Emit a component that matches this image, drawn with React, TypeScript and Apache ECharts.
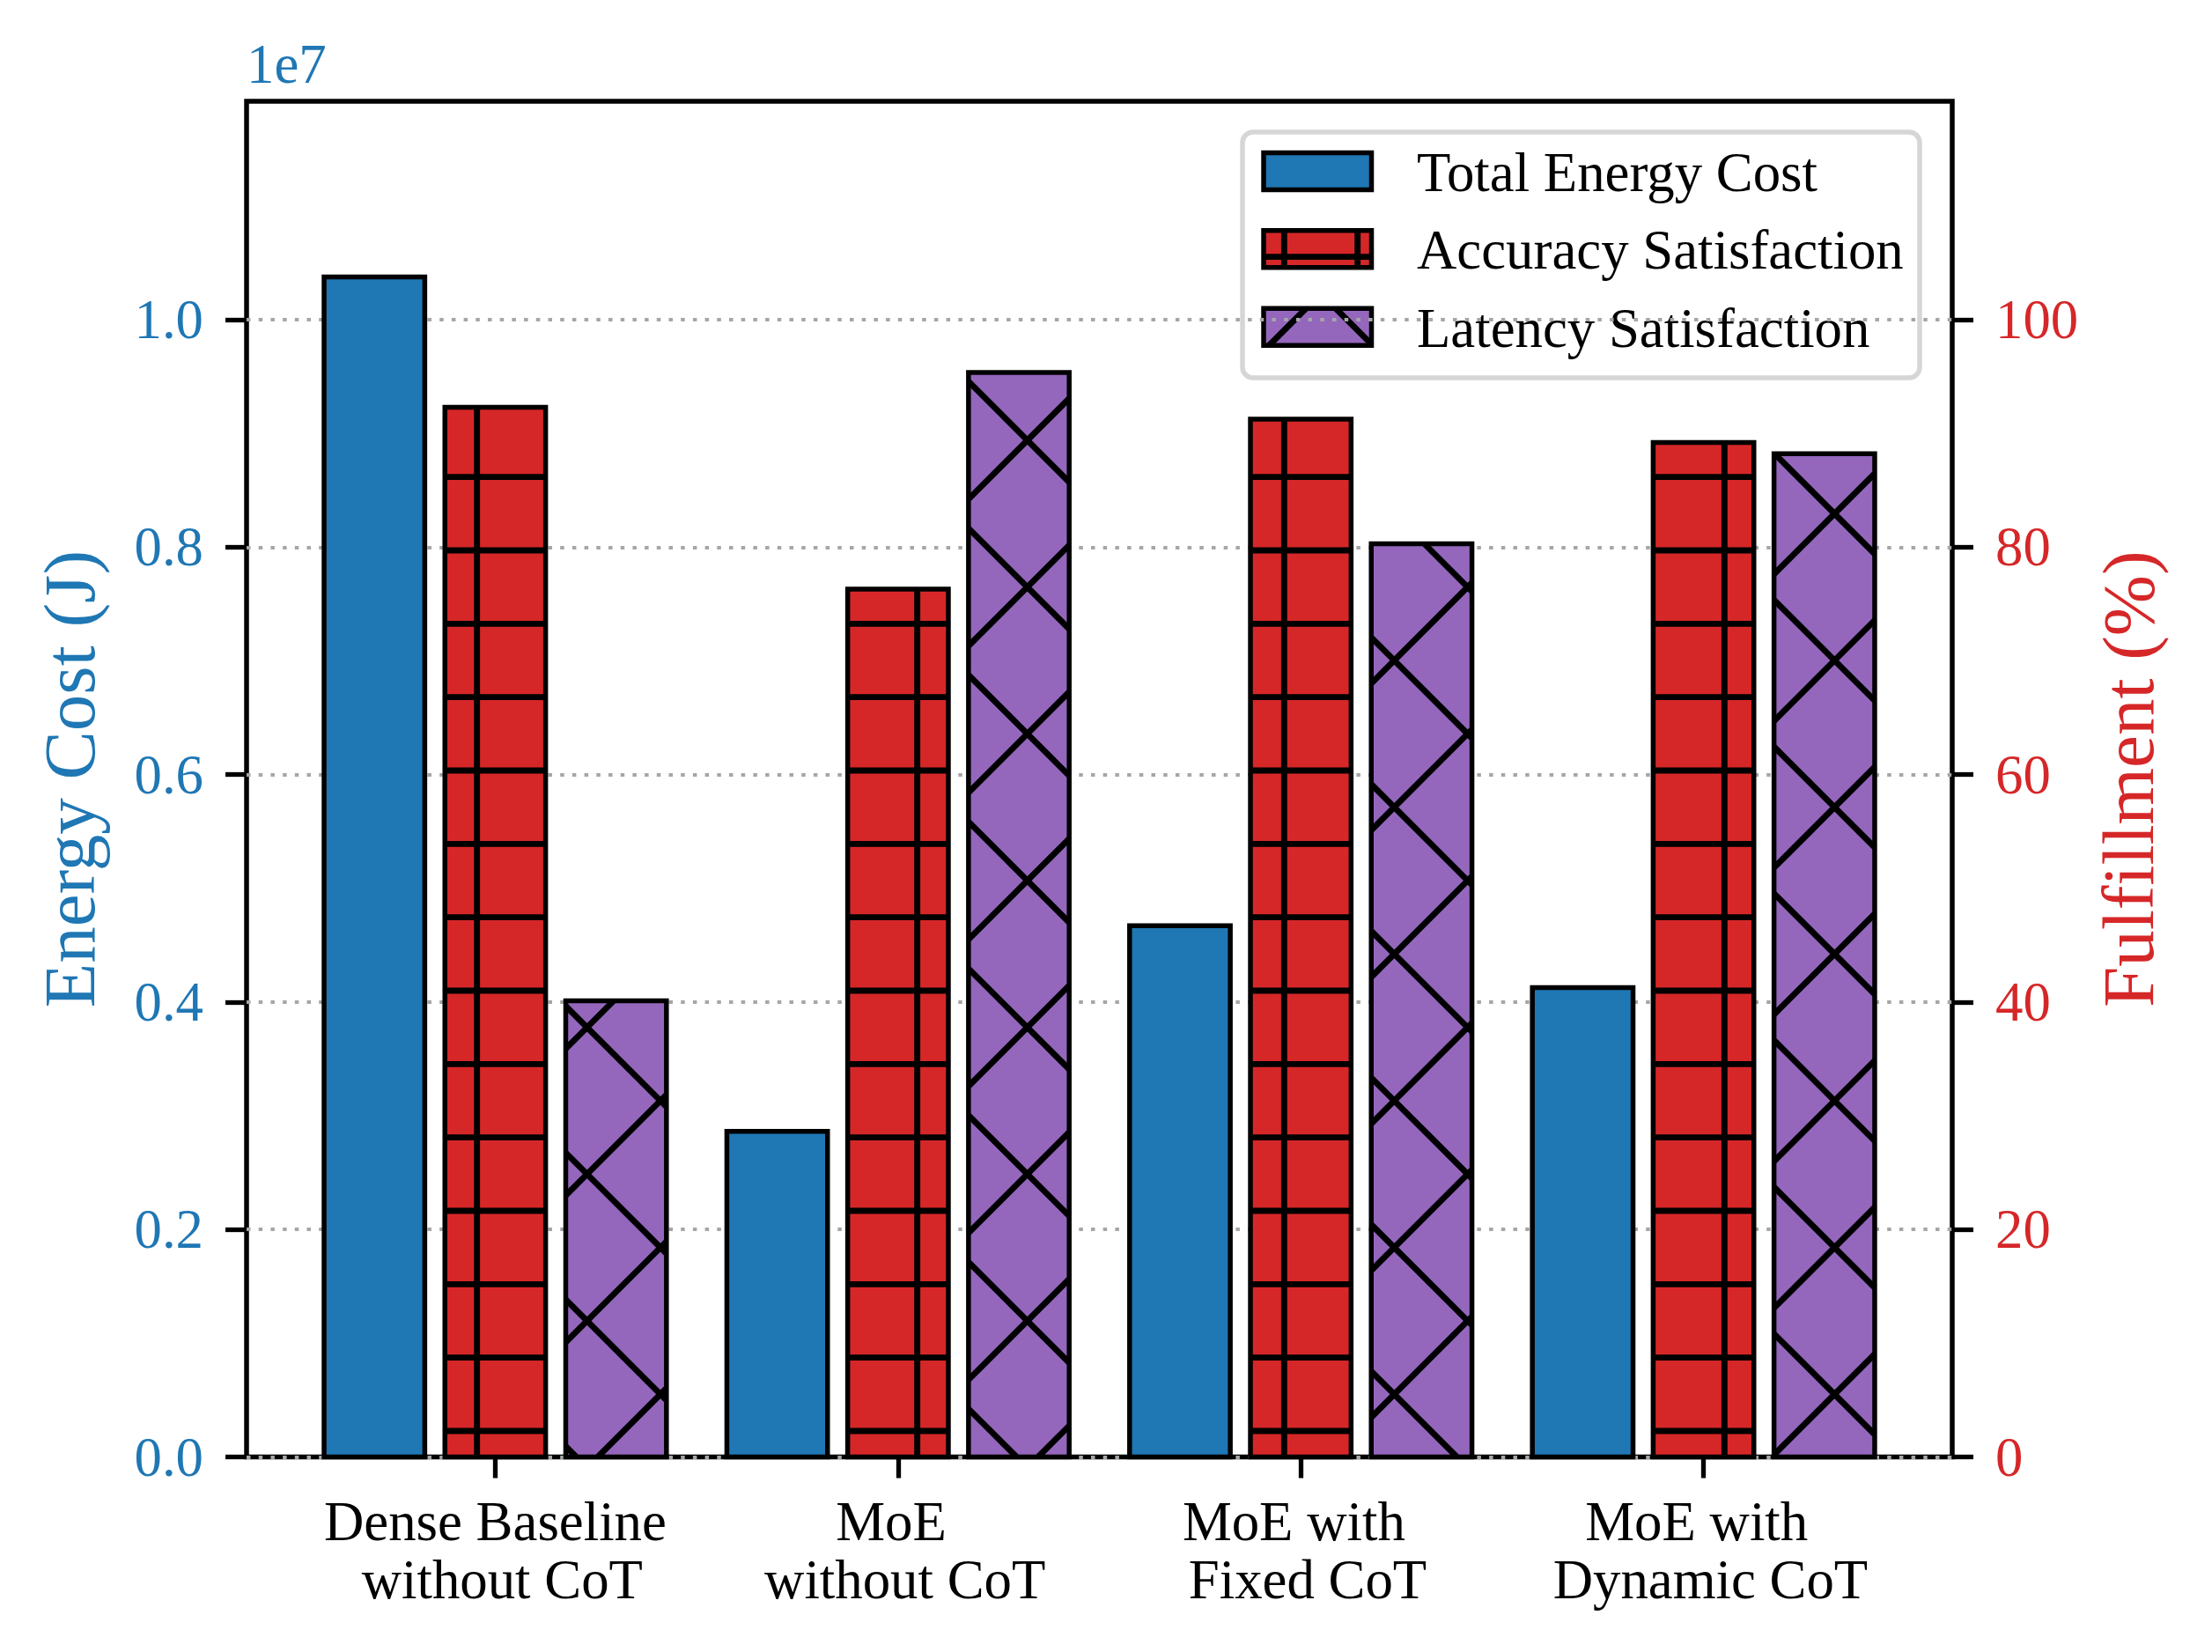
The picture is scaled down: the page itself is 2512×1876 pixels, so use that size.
import React, { useEffect, useRef } from "react";
import * as echarts from "echarts";

// ---------------- data ----------------
const categories = [
  "Dense Baseline\n\u00a0without CoT",
  "MoE\u00a0\n\u00a0without CoT",
  "MoE with\u00a0\n\u00a0Fixed CoT",
  "MoE with\u00a0\n\u00a0Dynamic CoT",
];
const seriesNames = ["Total Energy Cost", "Accuracy Satisfaction", "Latency Satisfaction"];
const energyCost = [1.0375e7, 0.2863e7, 0.4671e7, 0.4126e7];
const accuracySatisfaction = [92.3, 76.3, 91.25, 89.2];
const latencySatisfaction = [40.1, 95.35, 80.3, 88.2];
const energyTicks = [0, 2e6, 4e6, 6e6, 8e6, 1e7];
const fulfillmentTicks = [0, 20, 40, 60, 80, 100];
const categoryTicks = [0, 1, 2, 3];

// ---------------- styling ----------------
const FONT = '"Liberation Serif", "Times New Roman", serif';
const BLUE = "#1f77b4";
const RED = "#d62728";
const PURPLE = "#9467bd";
const HP = 500 / 6; // hatch spacing in px
const EDGE_W = 5.5;
const HATCH_W = 6.9;
const BAR_W = 0.25;
const OFFSETS = [-0.3, 0, 0.3];
const TICK_FS = 62.8;

type Seg = [number, number, number, number];

function hatchSegments(kind: string, x0: number, y0: number, x1: number, y1: number): Seg[] {
  const segs: Seg[] = [];
  if (kind === "plus") {
    for (let k = Math.floor(x0 / HP) - 1; k <= Math.ceil(x1 / HP) + 1; k++) {
      const x = HP * (k + 0.5);
      if (x > x0 && x < x1) segs.push([x, y0, x, y1]);
    }
    for (let k = Math.floor(y0 / HP) - 1; k <= Math.ceil(y1 / HP) + 1; k++) {
      const y = HP * (k + 0.5);
      if (y > y0 && y < y1) segs.push([x0, y, x1, y]);
    }
  } else if (kind === "cross") {
    const P = 2 * HP;
    for (let k = Math.floor((x0 - y1) / P) - 1; k <= Math.ceil((x1 - y0) / P) + 1; k++) {
      const c = k * P;
      const xa = Math.max(x0, y0 + c);
      const xb = Math.min(x1, y1 + c);
      if (xb - xa > 0.5) segs.push([xa, xa - c, xb, xb - c]);
    }
    for (let k = Math.floor((x0 + y0) / P) - 1; k <= Math.ceil((x1 + y1) / P) + 1; k++) {
      const c = k * P;
      const xa = Math.max(x0, c - y1);
      const xb = Math.min(x1, c - y0);
      if (xb - xa > 0.5) segs.push([xa, c - xa, xb, c - xb]);
    }
  }
  return segs;
}

function barChildren(x0: number, y0: number, x1: number, y1: number, fill: string, kind: string) {
  const left = Math.min(x0, x1);
  const right = Math.max(x0, x1);
  const top = Math.min(y0, y1);
  const bottom = Math.max(y0, y1);
  const shape = { x: left, y: top, width: right - left, height: bottom - top };
  const children: any[] = [{ type: "rect", shape, style: { fill } }];
  hatchSegments(kind, left, top, right, bottom).forEach((s) => {
    children.push({
      type: "line",
      shape: { x1: s[0], y1: s[1], x2: s[2], y2: s[3] },
      style: { stroke: "#000", lineWidth: HATCH_W, lineCap: "butt" },
    });
  });
  children.push({ type: "rect", shape, style: { fill: "none", stroke: "#000", lineWidth: EDGE_W } });
  return children;
}

const fills = [BLUE, RED, PURPLE];
const kinds = ["none", "plus", "cross"];

function makeRenderItem(idx: number) {
  return (params: any, api: any) => {
    const i = api.value(0);
    const v = api.value(1);
    const a = api.coord([i + OFFSETS[idx] - BAR_W / 2, v]);
    const b = api.coord([i + OFFSETS[idx] + BAR_W / 2, 0]);
    return { type: "group", children: barChildren(a[0], a[1], b[0], b[1], fills[idx], kinds[idx]) };
  };
}

function legendGraphic() {
  const children: any[] = [];
  children.push({
    type: "rect",
    shape: { x: 1411, y: 150, width: 769, height: 279, r: 12 },
    style: { fill: "rgba(255,255,255,0.8)", stroke: "rgba(204,204,204,0.8)", lineWidth: EDGE_W },
  });
  const centers = [194.4, 282.8, 371.2];
  centers.forEach((cy, k) => {
    const hx0 = 1435;
    const hx1 = 1557.5;
    const hy0 = cy - 21;
    const hy1 = cy + 21;
    barChildren(hx0, hy0, hx1, hy1, fills[k], kinds[k]).forEach((c) => children.push(c));
    children.push({
      type: "text",
      style: {
        text: seriesNames[k],
        x: 1609,
        y: cy + 1.6,
        fill: "#000",
        fontSize: TICK_FS,
        fontFamily: FONT,
        align: "left",
        verticalAlign: "middle",
      },
    });
  });
  return { type: "group", z: 100, children };
}

export default function App() {
  const ref = useRef<HTMLDivElement>(null);
  useEffect(() => {
    if (!ref.current) return;
    const chart = echarts.init(ref.current, undefined, { renderer: "svg" });
    const tickLabel = { fontFamily: FONT, fontSize: TICK_FS };
    const tickStyle = { color: "#000", width: 5.3 };
    const option: any = {
      animation: false,
      backgroundColor: "#fff",
      grid: {
        left: 280,
        right: 295,
        top: 115,
        bottom: 221.5,
        show: true,
        borderColor: "#000",
        borderWidth: EDGE_W,
        backgroundColor: "transparent",
        containLabel: false,
      },
      xAxis: {
        type: "value",
        min: -0.6175,
        max: 3.6175,
        position: "bottom",
        axisLine: { show: false, onZero: false },
        splitLine: { show: false },
        axisTick: {
          show: true,
          customValues: categoryTicks,
          length: 24,
          lineStyle: tickStyle,
        },
        axisLabel: {
          show: true,
          customValues: categoryTicks,
          formatter: (v: number) => categories[Math.round(v)] ?? "",
          ...tickLabel,
          color: "#000",
          lineHeight: 66,
          margin: 40,
        },
      },
      yAxis: [
        {
          type: "value",
          min: 0,
          max: 1.192e7,
          interval: 2e6,
          position: "left",
          axisLine: { show: false, onZero: false },
          axisTick: {
            show: true,
            customValues: energyTicks,
            length: 24,
            lineStyle: tickStyle,
          },
          axisLabel: {
            show: true,
            customValues: energyTicks,
            formatter: (v: number) => (v / 1e7).toFixed(1),
            ...tickLabel,
            color: BLUE,
            margin: 49,
          },
          splitLine: {
            show: true,
            lineStyle: { color: "#a6a6a6", width: 4, type: [4.5, 9.2] },
          },
        },
        {
          type: "value",
          min: 0,
          max: 119.2,
          interval: 20,
          position: "right",
          axisLine: { show: false, onZero: false },
          axisTick: {
            show: true,
            customValues: fulfillmentTicks,
            length: 24,
            lineStyle: tickStyle,
          },
          axisLabel: {
            show: true,
            customValues: fulfillmentTicks,
            formatter: (v: number) => String(Math.round(v)),
            ...tickLabel,
            color: RED,
            margin: 49,
          },
          splitLine: { show: false },
        },
      ],
      series: [
        {
          type: "custom",
          name: seriesNames[0],
          yAxisIndex: 0,
          silent: true,
          renderItem: makeRenderItem(0),
          encode: { x: 0, y: 1 },
          data: energyCost.map((v, i) => [i, v]),
          z: 3,
        },
        {
          type: "custom",
          name: seriesNames[1],
          yAxisIndex: 1,
          silent: true,
          renderItem: makeRenderItem(1),
          encode: { x: 0, y: 1 },
          data: accuracySatisfaction.map((v, i) => [i, v]),
          z: 3,
        },
        {
          type: "custom",
          name: seriesNames[2],
          yAxisIndex: 1,
          silent: true,
          renderItem: makeRenderItem(2),
          encode: { x: 0, y: 1 },
          data: latencySatisfaction.map((v, i) => [i, v]),
          z: 3,
        },
      ],
      graphic: [
        {
          type: "text",
          z: 100,
          style: {
            text: "1e7",
            x: 280,
            y: 73.3,
            fill: BLUE,
            fontSize: TICK_FS,
            fontFamily: FONT,
            align: "left",
            verticalAlign: "middle",
          },
        },
        {
          type: "text",
          z: 100,
          x: 79.2,
          y: 884.7,
          rotation: Math.PI / 2,
          style: {
            text: "Energy Cost (J)",
            x: 0,
            y: 0,
            fill: BLUE,
            fontSize: 83,
            fontFamily: FONT,
            align: "center",
            verticalAlign: "middle",
          },
        },
        {
          type: "text",
          z: 100,
          x: 2416.5,
          y: 884.7,
          rotation: Math.PI / 2,
          style: {
            text: "Fulfillment (%)",
            x: 0,
            y: 0,
            fill: RED,
            fontSize: 83,
            fontFamily: FONT,
            align: "center",
            verticalAlign: "middle",
          },
        },
        legendGraphic(),
      ],
    };
    chart.setOption(option);
    return () => {
      chart.dispose();
    };
  }, []);
  return (
    <div
      ref={ref}
      style={{ position: "absolute", left: 0, top: 0, width: 2512, height: 1876, background: "#fff" }}
    />
  );
}
